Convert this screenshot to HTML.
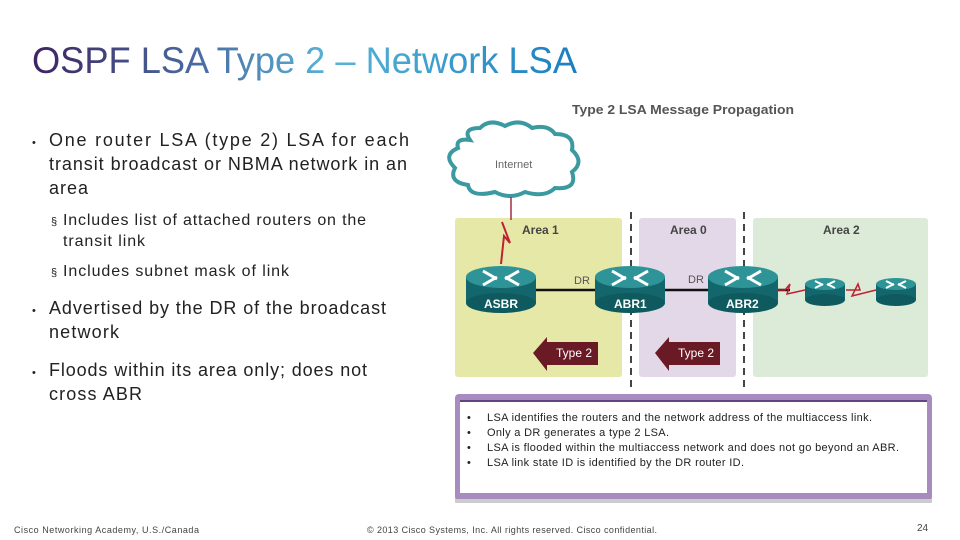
<!DOCTYPE html>
<html><head><meta charset="utf-8"><style>
body{margin:0;background:#fff}
svg{display:block;font-family:"Liberation Sans",Arial,sans-serif}
</style></head><body>
<svg width="960" height="540" viewBox="0 0 960 540" xmlns="http://www.w3.org/2000/svg">
<defs>
<linearGradient id="tg" x1="32" x2="577" y1="0" y2="0" gradientUnits="userSpaceOnUse">
<stop offset="0" stop-color="#3d2460"/><stop offset="0.3" stop-color="#4a6aa0"/><stop offset="0.55" stop-color="#58b4d8"/><stop offset="1" stop-color="#1a7fc0"/></linearGradient>
<g id="r"><rect x="-35" y="-12" width="70" height="26" fill="#13676c"/><ellipse cx="0" cy="14" rx="35" ry="10" fill="#0f5a5e"/><ellipse cx="0" cy="-12" rx="35" ry="11" fill="#2e9498"/>
<path d="M-18,-18 L-4,-10 M18,-18 L4,-10 M-18,-4 L-4,-12 M18,-4 L4,-12" stroke="#fff" stroke-width="3"/></g>
<g id="rs"><rect x="-20" y="-7" width="40" height="16" fill="#13676c"/><ellipse cx="0" cy="9" rx="20" ry="6" fill="#0f5a5e"/><ellipse cx="0" cy="-7" rx="20" ry="6" fill="#2e9498"/>
<path d="M-10,-10 L-2,-6 M10,-10 L2,-6 M-10,-3 L-2,-7 M10,-3 L2,-7" stroke="#fff" stroke-width="2"/></g>
</defs>
<text x="32" y="73" font-size="37" fill="url(#tg)" textLength="545" lengthAdjust="spacingAndGlyphs">OSPF LSA Type 2 – Network LSA</text>
<g font-size="18" fill="#222" lengthAdjust="spacingAndGlyphs">
<text x="32" y="146" font-size="11">•</text><text x="49" y="146" textLength="360">One router LSA (type 2) LSA for each</text>
<text x="49" y="170" textLength="358">transit broadcast or NBMA network in an</text><text x="49" y="194" textLength="39">area</text>
<text x="51" y="225" font-size="11">§</text><text x="63" y="225" font-size="16" textLength="303">Includes list of attached routers on the</text>
<text x="63" y="246" font-size="16" textLength="82">transit link</text>
<text x="51" y="276" font-size="11">§</text><text x="63" y="276" font-size="16" textLength="226">Includes subnet mask of link</text>
<text x="32" y="314" font-size="11">•</text><text x="49" y="314" textLength="337">Advertised by the DR of the broadcast</text>
<text x="49" y="338" textLength="70">network</text>
<text x="32" y="376" font-size="11">•</text><text x="49" y="376" textLength="318">Floods within its area only; does not</text>
<text x="49" y="400" textLength="93">cross ABR</text>
</g>
<text x="572" y="114" font-size="13" font-weight="bold" fill="#555" textLength="222" lengthAdjust="spacingAndGlyphs">Type 2 LSA Message Propagation</text>
<rect x="455" y="218" width="167" height="159" rx="3" fill="#e6e8a8"/>
<rect x="639" y="218" width="97" height="159" rx="3" fill="#e3d8e8"/>
<rect x="753" y="218" width="175" height="159" rx="3" fill="#dcebd8"/>
<line x1="631" y1="212" x2="631" y2="387" stroke="#444" stroke-width="2" stroke-dasharray="7,5"/>
<line x1="744" y1="212" x2="744" y2="387" stroke="#444" stroke-width="2" stroke-dasharray="7,5"/>
<g font-size="12" font-weight="bold" fill="#444"><text x="522" y="234">Area 1</text><text x="670" y="234">Area 0</text><text x="823" y="234">Area 2</text></g>
<path d="M470,140 Q462,128 480,128 Q490,118 505,126 Q520,118 532,128 Q548,124 555,134 Q575,134 572,150 Q585,162 572,172 Q578,190 555,188 Q545,198 525,192 Q510,200 495,192 Q470,198 468,185 Q448,182 455,168 Q442,155 458,148 Q455,138 470,140Z" fill="#fff" stroke="#3a9aa0" stroke-width="4"/>
<text x="495" y="168" font-size="11" fill="#666">Internet</text>
<line x1="511" y1="197" x2="511" y2="220" stroke="#a03040" stroke-width="1.5"/>
<path d="M502,222 L510,243 L504,236 L501,264" stroke="#c02030" stroke-width="2" fill="none"/>
<line x1="535" y1="290" x2="790" y2="290" stroke="#111" stroke-width="2.5"/>
<path d="M778,290 L785,290 L790,284 L787,294 L805,290" stroke="#c02030" stroke-width="1.5" fill="none"/>
<path d="M846,290 L860,290 L858,284 L852,296 L876,290" stroke="#c02030" stroke-width="1.5" fill="none"/>
<use href="#r" x="501" y="289"/><use href="#r" x="630" y="289"/><use href="#r" x="743" y="289"/>
<use href="#rs" x="825" y="291"/><use href="#rs" x="896" y="291"/>
<g font-size="12" font-weight="bold" fill="#fff"><text x="484" y="308">ASBR</text><text x="614" y="308">ABR1</text><text x="726" y="308">ABR2</text></g>
<g font-size="11" fill="#555"><text x="574" y="284">DR</text><text x="688" y="283">DR</text></g>
<path d="M533,353 L547,337 L547,342 L598,342 L598,365 L547,365 L547,371Z" fill="#6a1a24"/>
<path d="M655,353 L669,337 L669,342 L720,342 L720,365 L669,365 L669,371Z" fill="#6a1a24"/>
<g font-size="12" fill="#fff"><text x="556" y="357">Type 2</text><text x="678" y="357">Type 2</text></g>
<rect x="455" y="394" width="477" height="107" rx="4" fill="#a88cc0"/>
<rect x="455" y="499" width="477" height="4" fill="#ccc"/>
<rect x="460" y="402" width="467" height="91" fill="#fff"/>
<line x1="460" y1="401" x2="927" y2="401" stroke="#4a2c6a" stroke-width="1.5"/>
<g font-size="11" fill="#222" lengthAdjust="spacingAndGlyphs">
<text x="467" y="421">•</text><text x="487" y="421" textLength="385">LSA identifies the routers and the network address of the multiaccess link.</text>
<text x="467" y="436">•</text><text x="487" y="436" textLength="182">Only a DR generates a type 2 LSA.</text>
<text x="467" y="451">•</text><text x="487" y="451" textLength="412">LSA is flooded within the multiaccess network and does not go beyond an ABR.</text>
<text x="467" y="466">•</text><text x="487" y="466" textLength="257">LSA link state ID is identified by the DR router ID.</text>
</g>
<g font-size="9" fill="#444" lengthAdjust="spacingAndGlyphs"><text x="14" y="533" textLength="185">Cisco Networking Academy, U.S./Canada</text>
<text x="367" y="533" textLength="290">© 2013 Cisco Systems, Inc. All rights reserved. Cisco confidential.</text>
<text x="917" y="531" font-size="10">24</text></g>
</svg>
</body></html>
